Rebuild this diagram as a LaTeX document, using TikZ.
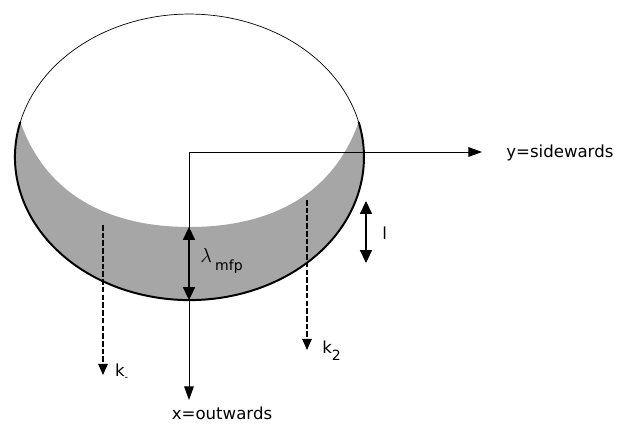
\documentclass[tikz,border=0pt]{standalone}
\usepackage{fontspec}
\setmainfont{DejaVu Sans}
\usetikzlibrary{arrows.meta}

\tikzset{
  axisline/.style={line width=0.7pt, -{Triangle[length=3.4mm,width=2.4mm]}},
  wavevec/.style={line width=0.8pt, dash pattern=on 4pt off 1.5pt, -{Triangle[length=2.8mm,width=2.4mm]}},
  lenline/.style={line width=1pt, {Triangle[length=3.2mm,width=3mm]}-{Triangle[length=3.2mm,width=3mm]}},
  lbl/.style={font=\fontsize{11.8}{13}\selectfont, inner sep=0pt}
}

\begin{document}
\begin{tikzpicture}
  \useasboundingbox (0,0) rectangle (15.65,10.725);

  % shaded rim
  \fill[gray!70] (0.508,7.675) arc[start angle=165.8, end angle=374.2, x radius=4.3625, y radius=3.575]
    .. controls (8.25,5.65) and (6.475,5.05) .. (4.7375,5.05)
    .. controls (3,5.05) and (1.225,5.65) .. (0.508,7.675) -- cycle;

  % outline
  \draw[line width=0.5pt] (0.508,7.675) arc[start angle=165.8, end angle=14.2, x radius=4.3625, y radius=3.575];
  \draw[line width=1.4pt] (0.508,7.675) arc[start angle=165.8, end angle=374.2, x radius=4.3625, y radius=3.575];

  \coordinate (O) at (4.725,6.925);
  \coordinate (Yend) at (12.05,6.925);
  \coordinate (Xend) at (4.725,0.725);
  \coordinate (Ltop) at (4.725,5.05);
  \coordinate (Lbot) at (4.725,3.225);
  \coordinate (Atop) at (2.575,5.1);
  \coordinate (Abot) at (2.575,1.35);
  \coordinate (Btop) at (7.675,5.725);
  \coordinate (Bbot) at (7.675,1.975);
  \coordinate (Ctop) at (9.15,5.7);
  \coordinate (Cbot) at (9.15,4.15);

  \draw[axisline] (O) -- (Yend);
  \draw[axisline] (O) -- (Xend);
  \draw[lenline] (Ltop) -- (Lbot);
  \draw[lenline] (Ctop) -- (Cbot);
  \draw[wavevec] (Atop) -- (Abot);
  \draw[wavevec] (Btop) -- (Bbot);

  \node[lbl, anchor=west] (ylab) at (12.65,6.9) {y=sidewards};
  \node[lbl] (xlab) at (5.55,0.4) {x=outwards};
  \node[lbl, anchor=west] (mfp) at (5,4.2) {\Large$\lambda$\,\raisebox{-6pt}{\normalsize mfp}};
  \node[lbl, anchor=west] (kone) at (2.87,1.42) {k\raisebox{-3pt}{\scriptsize -}};
  \node[lbl, anchor=west] (ktwo) at (8.05,1.95) {k\raisebox{-5pt}{\normalsize 2}};
  \node[lbl, anchor=west] (lenl) at (9.55,4.9) {l};
\end{tikzpicture}
\end{document}
